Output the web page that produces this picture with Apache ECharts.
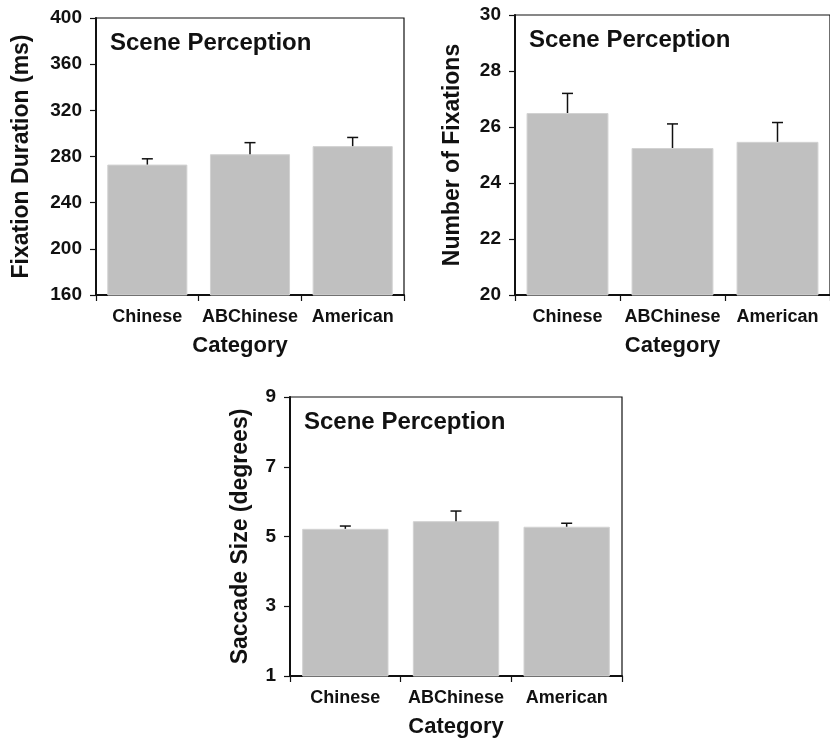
<!DOCTYPE html>
<html>
<head>
<meta charset="utf-8">
<script src="https://cdn.jsdelivr.net/npm/echarts@6/dist/echarts.min.js"></script>
<style>
  html, body { margin: 0; padding: 0; background: #fff; }
  #chart { width: 830px; height: 746px; }
</style>
</head>
<body>
<div id="chart"></div>
<script>
// Groups shown on every panel
const categories = ['Chinese', 'ABChinese', 'American'];

// Mean fixation duration (ms) and upper error
const fixationDuration = [273, 282, 289];
const fixationDurationErr = [5, 10, 7.5];

// Mean number of fixations and upper error
const fixationCount = [26.5, 25.25, 25.47];
const fixationCountErr = [0.7, 0.86, 0.69];

// Mean saccade size (degrees) and upper error
const saccadeSize = [5.22, 5.44, 5.28];
const saccadeSizeErr = [0.08, 0.29, 0.1];

// Value-axis tick labels
const durationTicks = [160, 200, 240, 280, 320, 360, 400];
const countTicks = [20, 22, 24, 26, 28, 30];
const saccadeTicks = [1, 3, 5, 7, 9];

const panelTitle = 'Scene Perception';
const xTitle = 'Category';

const FONT = '"Liberation Sans", Arial, Helvetica, sans-serif';
const INK = '#111';

const panels = [
  { grid: { left: 96, top: 18, width: 308, height: 277 },
    yName: 'Fixation Duration (ms)', nameGap: 63, xNamePad: [0, 20, 0, 0],
    ticks: durationTicks, values: fixationDuration, errs: fixationDurationErr },
  { grid: { left: 515, top: 15, width: 322, height: 280 },
    yName: 'Number of Fixations', nameGap: 51, xNamePad: [0, 0, 0, 0],
    ticks: countTicks, values: fixationCount, errs: fixationCountErr },
  { grid: { left: 290, top: 397, width: 332, height: 279 },
    yName: 'Saccade Size (degrees)', nameGap: 38, xNamePad: [0, 0, 0, 0],
    ticks: saccadeTicks, values: saccadeSize, errs: saccadeSizeErr }
];

const grids = [], xAxes = [], yAxes = [], series = [], texts = [];

panels.forEach((p, i) => {
  grids.push(Object.assign({ show: true, borderColor: INK, borderWidth: 1.2, backgroundColor: 'transparent' }, p.grid));

  xAxes.push({
    type: 'category', gridIndex: i, data: categories,
    name: xTitle, nameLocation: 'middle', nameGap: 40,
    nameTextStyle: { fontFamily: FONT, fontWeight: 'bold', fontSize: 22, color: INK, padding: p.xNamePad },
    axisLine: { lineStyle: { color: INK, width: 2 } },
    axisTick: { show: true, length: 6, lineStyle: { color: INK, width: 1.2 } },
    axisLabel: { interval: 0, fontFamily: FONT, fontWeight: 'bold', fontSize: 18, color: INK, margin: 13 },
    splitLine: { show: false }
  });

  const lo = p.ticks[0], hi = p.ticks[p.ticks.length - 1];
  yAxes.push({
    type: 'value', gridIndex: i, min: lo, max: hi,
    name: p.yName, nameLocation: 'middle', nameGap: p.nameGap, nameRotate: 90,
    nameTextStyle: { fontFamily: FONT, fontWeight: 'bold', fontSize: 23, color: INK },
    axisLine: { show: true, lineStyle: { color: INK, width: 2 } },
    axisTick: { show: true, length: 6, customValues: p.ticks, lineStyle: { color: INK, width: 1.2 } },
    axisLabel: { fontFamily: FONT, fontWeight: 'bold', fontSize: 19, color: INK, margin: 14, customValues: p.ticks },
    splitLine: { show: false }
  });

  series.push({
    type: 'bar', xAxisIndex: i, yAxisIndex: i,
    data: p.values, barCategoryGap: '22%', clip: true,
    itemStyle: { color: '#c0c0c0', borderColor: '#d2d2d2', borderWidth: 1 },
    z: 1
  });

  // Upper error whisker with a short cap
  series.push({
    type: 'custom', xAxisIndex: i, yAxisIndex: i, z: 3,
    data: p.values.map((v, k) => [k, v, v + p.errs[k]]),
    renderItem: function (params, api) {
      const base = api.coord([api.value(0), api.value(1)]);
      const top = api.coord([api.value(0), api.value(2)]);
      const cap = 5.5;
      return {
        type: 'group',
        children: [
          { type: 'line', shape: { x1: base[0], y1: base[1], x2: top[0], y2: top[1] },
            style: { stroke: INK, lineWidth: 1.5 } },
          { type: 'line', shape: { x1: top[0] - cap, y1: top[1], x2: top[0] + cap, y2: top[1] },
            style: { stroke: INK, lineWidth: 1.5 } }
        ]
      };
    }
  });

  texts.push({
    type: 'text', left: p.grid.left + 14, top: p.grid.top + 13, z: 10,
    style: { text: panelTitle, font: 'bold 24px ' + FONT, fill: INK }
  });
});

const chart = echarts.init(document.getElementById('chart'), null, { renderer: 'canvas' });
chart.setOption({
  animation: false,
  backgroundColor: '#fff',
  grid: grids,
  xAxis: xAxes,
  yAxis: yAxes,
  series: series,
  graphic: texts
});
</script>
</body>
</html>
